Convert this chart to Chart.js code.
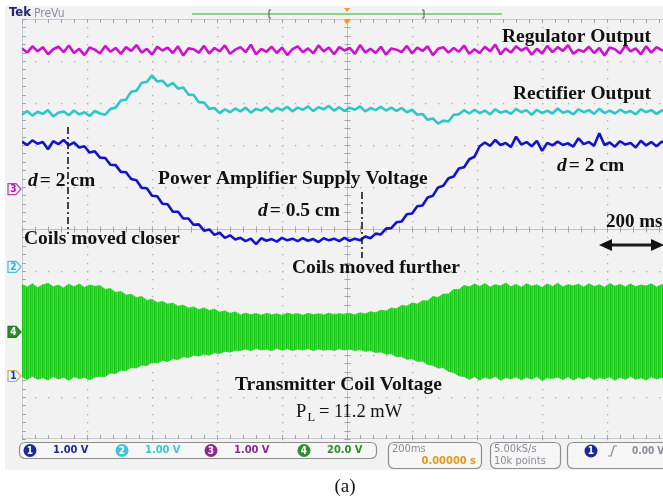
<!DOCTYPE html>
<html>
<head>
<meta charset="utf-8">
<script src="https://cdn.jsdelivr.net/npm/chart.js@4.4.0/dist/chart.umd.min.js"></script>
<style>
  html, body { margin: 0; padding: 0; background: #fff; overflow: hidden; }
  #scope { display: block; }
</style>
</head>
<body>
<canvas id="scope" width="663" height="498"></canvas>
<script>
// time base: 200 ms/div, trigger at t = 0, one sample every 16 ms
var startMs = -1000;
var stepMs = 16;
var viewMs = [-1000, 972];

// channel 3 (magenta) - regulator output, volts
var regulatorV = [
  3.35,3.25,3.40,3.28,3.38,3.21,3.33,3.39,3.26,3.42,
  3.24,3.34,3.19,3.37,3.32,3.23,3.41,3.27,3.36,3.22,
  3.38,3.29,3.43,3.25,3.34,3.20,3.39,3.30,3.37,3.24,
  3.40,3.18,3.35,3.33,3.25,3.41,3.23,3.36,3.28,3.42,
  3.22,3.32,3.38,3.26,3.44,3.21,3.34,3.27,3.39,3.24,
  3.37,3.19,3.33,3.40,3.26,3.35,3.23,3.42,3.28,3.37,
  3.21,3.38,3.30,3.36,3.22,3.43,3.25,3.34,3.24,3.39,
  3.20,3.35,3.32,3.26,3.41,3.23,3.37,3.29,3.40,3.19,
  3.34,3.38,3.25,3.36,3.27,3.42,3.22,3.33,3.24,3.39,
  3.28,3.44,3.21,3.35,3.25,3.40,3.30,3.37,3.20,3.34,
  3.23,3.41,3.26,3.38,3.29,3.43,3.22,3.32,3.27,3.39,
  3.24,3.36,3.18,3.37,3.33,3.23,3.42,3.28,3.35,3.21,
  3.40,3.25,3.38,3.31,3.27
];

// channel 2 (cyan) - rectifier output, volts
var rectifierV = [
  3.62,3.71,3.60,3.69,3.64,3.73,3.58,3.67,3.70,3.61,
  3.72,3.63,3.68,3.59,3.71,3.65,3.62,3.76,3.79,3.96,
  3.98,4.17,4.19,4.38,4.40,4.56,4.41,4.43,4.30,4.38,
  4.24,4.27,4.10,4.09,3.92,3.91,3.76,3.78,3.66,3.75,
  3.68,3.77,3.70,3.79,3.67,3.76,3.72,3.80,3.69,3.78,
  3.73,3.81,3.70,3.79,3.74,3.82,3.71,3.80,3.75,3.83,
  3.72,3.80,3.71,3.79,3.74,3.82,3.70,3.78,3.73,3.81,
  3.72,3.79,3.71,3.78,3.68,3.74,3.62,3.64,3.50,3.53,
  3.41,3.48,3.46,3.62,3.63,3.73,3.65,3.74,3.66,3.72,
  3.63,3.75,3.67,3.71,3.64,3.76,3.68,3.73,3.62,3.74,
  3.66,3.72,3.65,3.77,3.67,3.71,3.63,3.75,3.68,3.73,
  3.64,3.76,3.66,3.72,3.65,3.74,3.67,3.71,3.63,3.75,
  3.68,3.73,3.64,3.72,3.69
];

// channel 1 (blue) - power amplifier supply voltage, volts
var paSupplyV = [
  5.58,5.50,5.61,5.53,5.57,5.40,5.59,5.52,5.62,5.49,
  5.56,5.44,5.47,5.32,5.35,5.20,5.19,5.03,5.02,4.86,
  4.85,4.69,4.66,4.48,4.47,4.29,4.28,4.10,4.09,3.91,
  3.91,3.75,3.75,3.60,3.61,3.46,3.49,3.36,3.41,3.29,
  3.35,3.25,3.29,3.21,3.27,3.14,3.28,3.22,3.26,3.20,
  3.29,3.23,3.27,3.21,3.28,3.22,3.26,3.19,3.28,3.23,
  3.27,3.21,3.29,3.22,3.27,3.23,3.32,3.28,3.39,3.37,
  3.51,3.52,3.66,3.68,3.85,3.87,4.04,4.06,4.25,4.29,
  4.49,4.53,4.71,4.75,4.94,4.97,5.16,5.22,5.47,5.56,
  5.48,5.62,5.50,5.55,5.45,5.70,5.51,5.57,5.47,5.60,
  5.36,5.55,5.49,5.58,5.50,5.54,5.46,5.66,5.52,5.57,
  5.48,5.78,5.50,5.56,5.46,5.59,5.51,5.55,5.44,5.60,
  5.49,5.57,5.47,5.58,5.52
];

// channel 4 (green) - transmitter coil voltage envelope, volts
var coilUpperV = [
  22.6,21.3,22.9,21.0,22.4,23.1,21.5,22.2,20.9,22.7,
  21.4,22.8,21.1,22.3,21.7,22.0,20.2,20.6,18.8,19.2,
  17.5,17.9,16.3,16.8,15.0,15.4,13.9,14.5,13.2,13.7,
  12.2,12.7,11.3,11.9,10.6,11.4,10.2,10.8,9.4,10.0,
  8.8,9.5,8.0,8.9,8.2,8.7,7.9,8.8,8.1,8.6,
  7.8,8.9,8.3,8.7,7.9,8.8,8.2,8.6,8.0,8.9,
  8.1,8.7,8.3,8.8,8.1,9.1,8.5,9.6,9.1,10.3,
  9.9,11.4,11.0,12.6,12.2,13.8,13.2,14.8,14.7,16.8,
  16.4,18.0,18.0,20.2,20.1,22.1,21.4,22.8,21.6,23.0,
  21.3,22.5,21.8,23.2,21.5,22.6,21.2,22.9,21.7,22.4,
  21.1,22.8,21.6,23.1,21.4,22.5,21.9,22.7,21.3,22.9,
  21.6,22.4,21.2,23.0,21.7,22.6,21.4,22.8,21.5,22.3,
  21.8,22.9,21.3,22.5,21.9
];
var coilLowerV = [
  -21.4,-22.7,-21.1,-22.5,-21.8,-22.9,-21.2,-22.4,-21.6,-23.0,
  -21.3,-22.2,-21.7,-22.8,-21.5,-21.1,-21.2,-19.6,-19.8,-18.2,
  -18.4,-16.9,-17.2,-15.8,-16.0,-14.5,-14.8,-13.6,-14.1,-12.8,
  -13.1,-11.8,-12.2,-11.0,-11.5,-10.5,-11.1,-9.9,-10.3,-9.2,
  -9.6,-8.7,-8.8,-8.1,-8.9,-7.9,-8.6,-8.2,-8.9,-7.8,
  -8.7,-8.0,-8.8,-8.2,-8.6,-7.9,-8.9,-8.1,-8.7,-8.3,
  -8.8,-8.0,-8.6,-8.2,-8.8,-8.4,-9.2,-8.9,-9.8,-9.5,
  -10.6,-10.4,-11.8,-11.7,-13.0,-12.8,-14.0,-13.9,-15.5,-15.9,
  -17.2,-17.0,-18.8,-19.3,-20.9,-21.2,-22.6,-21.3,-22.9,-21.5,
  -22.4,-21.1,-23.0,-21.7,-22.3,-21.4,-22.8,-21.6,-22.5,-21.2,
  -23.1,-21.8,-22.2,-21.5,-22.7,-21.3,-22.9,-21.6,-22.4,-21.1,
  -22.8,-21.7,-22.3,-21.4,-23.0,-21.5,-22.6,-21.2,-22.5,-21.8,
  -22.9,-21.3,-22.4,-21.6,-22.7
];

// channel settings: volts per division and ground level (divisions from centre)
var channelNames = ['1', '2', '3', '4'];
var channelVoltsPerDiv = [1, 1, 1, 20];
var channelGroundDiv = [-3.5, -0.9, 0.95, -2.45];
var channelReadouts = ['1.00 V', '1.00 V', '1.00 V', '20.0 V'];

var serif = '"Liberation Serif", "Times New Roman", serif';
var narrow = '"DejaVu Sans Condensed", "Liberation Sans Narrow", "DejaVu Sans", sans-serif';

function series(values) {
  return values.map(function (v, i) {
    return { x: startMs + i * stepMs, y: v };
  });
}

function channelScale(i) {
  return {
    type: 'linear',
    axis: 'y',
    display: false,
    min: (-5 - channelGroundDiv[i]) * channelVoltsPerDiv[i],
    max: (5 - channelGroundDiv[i]) * channelVoltsPerDiv[i]
  };
}

function roundBox(ctx, x, y, w, h, r) {
  ctx.beginPath();
  ctx.moveTo(x + r, y);
  ctx.lineTo(x + w - r, y);
  ctx.quadraticCurveTo(x + w, y, x + w, y + r);
  ctx.lineTo(x + w, y + h - r);
  ctx.quadraticCurveTo(x + w, y + h, x + w - r, y + h);
  ctx.lineTo(x + r, y + h);
  ctx.quadraticCurveTo(x, y + h, x, y + h - r);
  ctx.lineTo(x, y + r);
  ctx.quadraticCurveTo(x, y, x + r, y);
  ctx.closePath();
}

function badge(ctx, x, y, label, color) {
  ctx.beginPath();
  ctx.arc(x, y, 6.5, 0, Math.PI * 2);
  ctx.fillStyle = color;
  ctx.fill();
  ctx.fillStyle = '#ffffff';
  ctx.font = 'bold 10px ' + narrow;
  ctx.textAlign = 'center';
  ctx.fillText(label, x, y + 0.5);
  ctx.textAlign = 'left';
}

function channelMarker(ctx, y, label, stroke, fill, textColor) {
  ctx.beginPath();
  ctx.moveTo(8, y - 5.5);
  ctx.lineTo(16, y - 5.5);
  ctx.lineTo(21, y);
  ctx.lineTo(16, y + 5.5);
  ctx.lineTo(8, y + 5.5);
  ctx.closePath();
  ctx.fillStyle = fill;
  ctx.fill();
  ctx.strokeStyle = stroke;
  ctx.lineWidth = 1.2;
  ctx.stroke();
  ctx.fillStyle = textColor;
  ctx.font = 'bold 10px ' + narrow;
  ctx.textAlign = 'center';
  ctx.textBaseline = 'middle';
  ctx.fillText(label, 13.5, y + 0.5);
  ctx.textAlign = 'left';
}

// "d = 2 cm" style label with italic d
function distanceLabel(ctx, x, y, rest) {
  ctx.font = 'italic bold 19.5px ' + serif;
  ctx.fillText('d', x, y);
  var w = ctx.measureText('d').width;
  ctx.font = 'bold 19.5px ' + serif;
  ctx.fillText(rest, x + w + 2, y);
}

var scopeScreen = {
  id: 'scopeScreen',
  beforeDraw: function (chart) {
    var ctx = chart.ctx;
    ctx.save();
    ctx.fillStyle = '#ffffff';
    ctx.fillRect(0, 0, chart.width, chart.height);
    ctx.fillStyle = '#f2f2f2';
    ctx.fillRect(5, 6, chart.width - 5, 464);

    // header: Tek PreVu
    ctx.textBaseline = 'middle';
    ctx.font = 'bold 13px ' + narrow;
    ctx.fillStyle = '#26246e';
    ctx.fillText('Tek', 9, 13);
    var w = ctx.measureText('Tek').width;
    ctx.font = '12px ' + narrow;
    ctx.fillStyle = '#8a8aaa';
    ctx.fillText('PreVu', 9 + w + 3, 13.5);

    // record view bar
    ctx.strokeStyle = '#6cc56c';
    ctx.lineWidth = 1.6;
    ctx.beginPath();
    ctx.moveTo(192, 14);
    ctx.lineTo(502, 14);
    ctx.stroke();
    ctx.strokeStyle = '#555555';
    ctx.lineWidth = 1;
    ctx.beginPath();
    ctx.moveTo(271, 10); ctx.lineTo(269, 10); ctx.lineTo(269, 18); ctx.lineTo(271, 18);
    ctx.moveTo(422, 10); ctx.lineTo(424, 10); ctx.lineTo(424, 18); ctx.lineTo(422, 18);
    ctx.stroke();

    var tx = chart.scales.x.getPixelForValue(0);
    ctx.fillStyle = '#f0962a';
    ctx.beginPath();
    ctx.moveTo(tx - 3, 8); ctx.lineTo(tx + 3, 8); ctx.lineTo(tx, 12);
    ctx.closePath();
    ctx.fill();
    ctx.beginPath();
    ctx.moveTo(tx - 4, 19); ctx.lineTo(tx + 4, 19); ctx.lineTo(tx, 25);
    ctx.closePath();
    ctx.fill();
    ctx.restore();
  },
  beforeDatasetsDraw: function (chart) {
    var ctx = chart.ctx;
    var xs = chart.scales.x;
    var ds = chart.scales.div;
    var a = chart.chartArea;
    var t, d, px, py;
    ctx.save();

    // dotted graticule
    ctx.fillStyle = '#aeaeae';
    for (d = -4; d <= 4; d++) {
      py = Math.round(ds.getPixelForValue(d));
      for (t = -1000; t <= 1000; t += 40) {
        px = Math.round(xs.getPixelForValue(t));
        if (px <= a.right) ctx.fillRect(px, py, 1.3, 1.3);
      }
    }
    for (t = -800; t <= 1000; t += 200) {
      px = Math.round(xs.getPixelForValue(t));
      if (px > a.right) continue;
      for (d = -5; d <= 5.001; d += 0.2) {
        py = Math.round(ds.getPixelForValue(d));
        ctx.fillRect(px, py, 1.3, 1.3);
      }
    }

    // frame and centre cross with minor ticks
    var cx = Math.round(xs.getPixelForValue(0)) + 0.5;
    var cy = Math.round(ds.getPixelForValue(0)) + 0.5;
    ctx.strokeStyle = '#c6cbd4';
    ctx.lineWidth = 1;
    ctx.beginPath();
    ctx.moveTo(a.left + 0.5, a.top); ctx.lineTo(a.left + 0.5, a.bottom);
    ctx.moveTo(a.left, a.top + 0.5); ctx.lineTo(a.right, a.top + 0.5);
    ctx.moveTo(a.left, a.bottom - 0.5); ctx.lineTo(a.right, a.bottom - 0.5);
    ctx.stroke();
    ctx.strokeStyle = '#c2c2c2';
    ctx.beginPath();
    ctx.moveTo(cx, a.top); ctx.lineTo(cx, a.bottom);
    ctx.moveTo(a.left, cy); ctx.lineTo(a.right, cy);
    ctx.stroke();

    ctx.strokeStyle = '#a4a4a4';
    ctx.beginPath();
    for (t = -1000; t <= 1000; t += 40) {
      px = Math.round(xs.getPixelForValue(t)) + 0.5;
      if (px > a.right) continue;
      ctx.moveTo(px, cy - 3); ctx.lineTo(px, cy + 3);
      ctx.moveTo(px, a.top); ctx.lineTo(px, a.top + 4);
      ctx.moveTo(px, a.bottom); ctx.lineTo(px, a.bottom - 4);
    }
    for (d = -5; d <= 5.001; d += 0.2) {
      py = Math.round(ds.getPixelForValue(d)) + 0.5;
      ctx.moveTo(cx - 3, py); ctx.lineTo(cx + 3, py);
      ctx.moveTo(a.left, py); ctx.lineTo(a.left + 4, py);
    }
    ctx.stroke();
    ctx.restore();
  },
  afterDatasetsDraw: function (chart) {
    var ctx = chart.ctx;
    ctx.save();

    // channel ground markers on the left edge
    ctx.textBaseline = 'middle';
    channelMarker(ctx, chart.scales.ch3.getPixelForValue(0), '3', '#b040b0', '#f6e8f6', '#a020a0');
    channelMarker(ctx, chart.scales.ch2.getPixelForValue(0), '2', '#40c0d0', '#eaf8fa', '#30b0c8');
    channelMarker(ctx, chart.scales.ch4.getPixelForValue(0), '4', '#1e7a1e', '#2a8c2a', '#ffffff');
    channelMarker(ctx, chart.scales.ch1.getPixelForValue(0), '1', '#c8b050', '#eef0fa', '#2030a0');

    // annotations
    ctx.fillStyle = '#111111';
    ctx.textBaseline = 'alphabetic';
    ctx.font = 'bold 19.5px ' + serif;
    ctx.fillText('Regulator Output', 502, 41.5);
    ctx.fillText('Rectifier Output', 513, 99);
    ctx.fillText('Power Amplifier Supply Voltage', 158, 184);
    ctx.fillText('Coils moved closer', 24, 244);
    ctx.fillText('Coils moved further', 292, 273);
    ctx.fillText('Transmitter Coil Voltage', 235, 390);
    ctx.font = 'bold 19px ' + serif;
    ctx.fillText('200 ms', 606, 227);
    distanceLabel(ctx, 28, 186, '= 2 cm');
    distanceLabel(ctx, 258, 216, '= 0.5 cm');
    distanceLabel(ctx, 557, 171, '= 2 cm');

    ctx.font = '18.5px ' + serif;
    ctx.fillText('P', 296, 417);
    ctx.font = '12.5px ' + serif;
    ctx.fillText('L', 307.5, 421);
    ctx.font = '18.5px ' + serif;
    ctx.fillText('= 11.2 mW', 319, 417);

    // dash-dot markers where the coils were moved
    ctx.strokeStyle = '#1a1a1a';
    ctx.lineWidth = 1.6;
    ctx.setLineDash([7, 3, 2, 3]);
    ctx.beginPath();
    ctx.moveTo(68, 127); ctx.lineTo(68, 234);
    ctx.moveTo(362, 192); ctx.lineTo(362, 258);
    ctx.stroke();
    ctx.setLineDash([]);

    // 200 ms scale arrow
    ctx.lineWidth = 3;
    ctx.beginPath();
    ctx.moveTo(606, 245); ctx.lineTo(656, 245);
    ctx.stroke();
    ctx.fillStyle = '#111111';
    ctx.beginPath();
    ctx.moveTo(599, 245); ctx.lineTo(612, 239); ctx.lineTo(612, 251);
    ctx.closePath();
    ctx.moveTo(664, 245); ctx.lineTo(651, 239); ctx.lineTo(651, 251);
    ctx.closePath();
    ctx.fill();
    ctx.restore();
  },
  afterDraw: function (chart) {
    var ctx = chart.ctx;
    ctx.save();
    ctx.strokeStyle = '#8e8e8e';
    ctx.lineWidth = 1.2;
    ctx.fillStyle = '#f6f6f6';
    [[19, 442, 357, 16], [388, 442, 93, 26], [490, 442, 70, 26], [567, 442, 110, 26]].forEach(function (b) {
      roundBox(ctx, b[0] + 0.5, b[1] + 0.5, b[2], b[3], 6);
      ctx.fill();
      ctx.stroke();
    });

    // vertical settings per channel
    var badgeColors = ['#1b2a96', '#3cc6d2', '#8e278e', '#2a8e2a'];
    var textColors = ['#1b2a96', '#3cc6d2', '#8e278e', '#2a8e2a'];
    var badgeX = [30, 122, 211, 304];
    ctx.textBaseline = 'middle';
    channelNames.forEach(function (name, i) {
      badge(ctx, badgeX[i], 450.5, name, badgeColors[i]);
      ctx.fillStyle = textColors[i];
      ctx.font = 'bold 11px ' + narrow;
      ctx.fillText(channelReadouts[i], badgeX[i] + 23, 450.5);
    });

    // horizontal / acquisition / trigger readouts
    ctx.font = '11px ' + narrow;
    ctx.fillStyle = '#8a8a96';
    ctx.fillText('200ms', 392, 449);
    ctx.fillStyle = '#e59a1c';
    ctx.textAlign = 'right';
    ctx.font = 'bold 11px ' + narrow;
    ctx.fillText('0.00000 s', 476, 461.5);
    ctx.textAlign = 'left';
    ctx.font = '11px ' + narrow;
    ctx.fillStyle = '#8a8a96';
    ctx.fillText('5.00kS/s', 494, 449);
    ctx.fillText('10k points', 494, 461.5);

    badge(ctx, 591, 451, '1', '#1b2a96');
    ctx.strokeStyle = '#8a8a96';
    ctx.lineWidth = 1.2;
    ctx.beginPath();
    ctx.moveTo(608, 456); ctx.lineTo(611, 456); ctx.lineTo(614, 446); ctx.lineTo(617, 446);
    ctx.stroke();
    ctx.fillStyle = '#8a8a96';
    ctx.fillText('0.00 V', 632, 451);

    // figure caption
    ctx.fillStyle = '#111111';
    ctx.textAlign = 'center';
    ctx.textBaseline = 'alphabetic';
    ctx.font = '19px ' + serif;
    ctx.fillText('(a)', 345, 492);
    ctx.restore();
  }
};

// fine vertical striping for the high-frequency coil voltage
var stripe = document.createElement('canvas');
stripe.width = 4;
stripe.height = 1;
var sctx = stripe.getContext('2d');
['#1fd01f', '#3fe63f', '#17bf17', '#33dc33'].forEach(function (c, i) {
  sctx.fillStyle = c;
  sctx.fillRect(i, 0, 1, 1);
});
var coilFill = sctx.createPattern(stripe, 'repeat');

var ctx = document.getElementById('scope').getContext('2d');
window.scopeChart = new Chart(ctx, {
  type: 'line',
  data: {
    datasets: [{
      label: 'Regulator Output',
      data: series(regulatorV),
      yAxisID: 'ch3',
      borderColor: '#cc12cc',
      borderWidth: 2.6
    }, {
      label: 'Rectifier Output',
      data: series(rectifierV),
      yAxisID: 'ch2',
      borderColor: '#2ec6c6',
      borderWidth: 2.6
    }, {
      label: 'Power Amplifier Supply Voltage',
      data: series(paSupplyV),
      yAxisID: 'ch1',
      borderColor: '#1414c4',
      borderWidth: 2.6
    }, {
      label: 'Transmitter Coil Voltage',
      data: series(coilUpperV),
      yAxisID: 'ch4',
      borderColor: '#2cd82c',
      borderWidth: 1,
      backgroundColor: coilFill,
      fill: '+1'
    }, {
      label: 'Transmitter Coil Voltage (lower)',
      data: series(coilLowerV),
      yAxisID: 'ch4',
      borderColor: '#2cd82c',
      borderWidth: 1,
      fill: false
    }]
  },
  options: {
    responsive: false,
    animation: false,
    events: [],
    layout: { padding: { left: 22, top: 19, right: 0, bottom: 59 } },
    elements: {
      point: { radius: 0 },
      line: { tension: 0, borderJoinStyle: 'bevel' }
    },
    plugins: {
      legend: { display: false },
      tooltip: { enabled: false }
    },
    scales: {
      x: { type: 'linear', display: false, min: viewMs[0], max: viewMs[1] },
      div: { type: 'linear', axis: 'y', display: false, min: -5, max: 5 },
      ch1: channelScale(0),
      ch2: channelScale(1),
      ch3: channelScale(2),
      ch4: channelScale(3)
    }
  },
  plugins: [scopeScreen]
});
</script>
</body>
</html>
